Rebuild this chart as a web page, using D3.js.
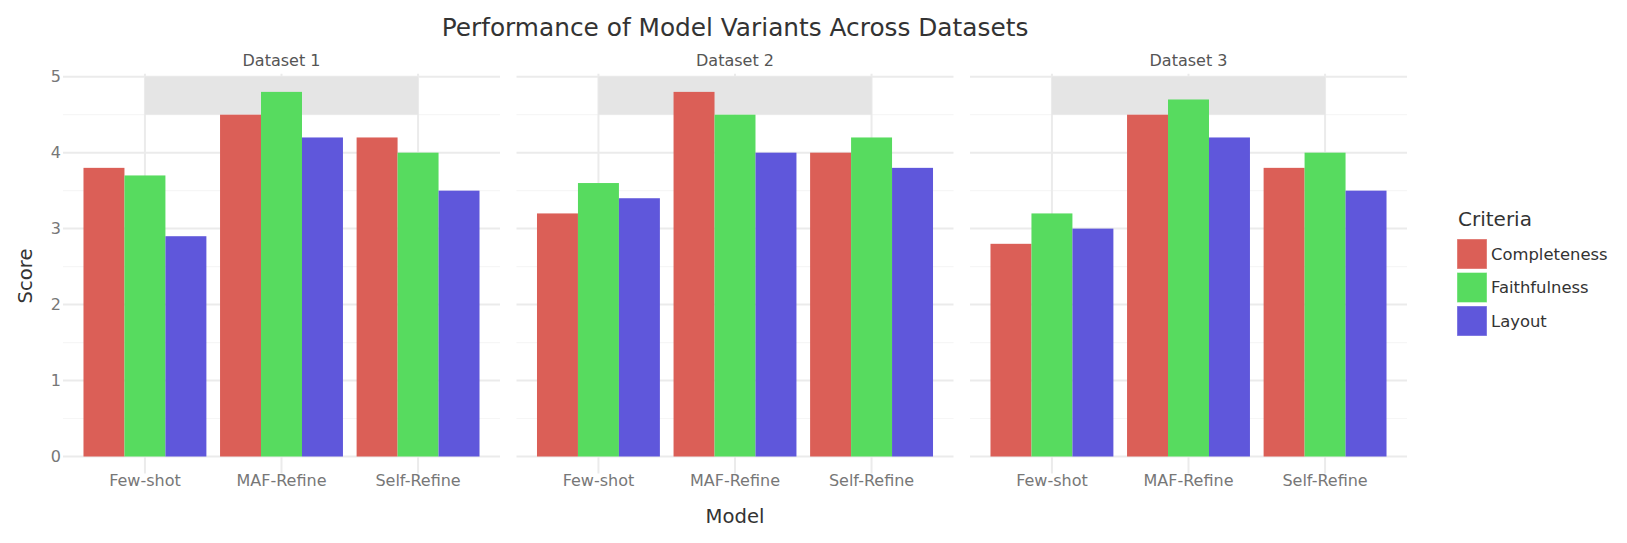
<!DOCTYPE html>
<html>
<head>
<meta charset="utf-8">
<script src="https://cdn.jsdelivr.net/npm/d3@7"></script>
<style>
  body { margin: 0; background: #fff; }
  svg { display: block; font-family: "DejaVu Sans", sans-serif; }
</style>
</head>
<body>
<script>
// data

const datasets = ["Dataset 1", "Dataset 2", "Dataset 3"]
const models = ["Few-shot", "MAF-Refine", "Self-Refine"]
const criteria = ["Completeness", "Faithfulness", "Layout"]

// one value per dataset x model (dataset-major)
const completeness = [3.8, 4.5, 4.2, 3.2, 4.8, 4.0, 2.8, 4.5, 3.8]
const faithfulness = [3.7, 4.8, 4.0, 3.6, 4.5, 4.2, 3.2, 4.7, 4.0]
const layout = [2.9, 4.2, 3.5, 3.4, 4.0, 3.8, 3.0, 4.2, 3.5]

const yTicks = [0, 1, 2, 3, 4, 5]
const yMinor = [0.5, 1.5, 2.5, 3.5, 4.5]
const colors = ["#db5f57", "#57db5f", "#5f57db"]

const series = [completeness, faithfulness, layout]
const rows = []
datasets.forEach((ds, i) => models.forEach((m, j) => criteria.forEach((c, k) => {
  rows.push({ dataset: ds, model: m, criterion: c, value: series[k][i * models.length + j] })
})))

// layout

const W = 1627, H = 543
const plotLeft = 63, plotRight = 1407
const plotTop = 76.7, plotBottom = 456.5

const svg = d3.select("body").append("svg")
  .attr("width", W)
  .attr("height", H)

const panel = d3.scaleBand()
  .domain(datasets)
  .range([plotLeft, plotRight])
  .paddingInner(16.5 / 453.5)

const x = d3.scaleBand()
  .domain(models)
  .range([0, panel.bandwidth()])
  .paddingOuter(0.1)

const xc = d3.scaleBand()
  .domain(criteria)
  .range([-0.45 * x.step(), 0.45 * x.step()])

const y = d3.scaleLinear()
  .domain([0, 5])
  .range([plotBottom, plotTop])

const color = d3.scaleOrdinal().domain(criteria).range(colors)

const gridCol = "#ebebeb"

datasets.forEach(ds => {
  const g = svg.append("g")
    .attr("transform", "translate(" + panel(ds) + ",0)")
  const pw = panel.bandwidth()
  const cx = m => x(m) + x.bandwidth() / 2

  // minor grid
  g.selectAll(".minor").data(yMinor).enter().append("line")
    .attr("x1", 0).attr("x2", pw)
    .attr("y1", d => y(d)).attr("y2", d => y(d))
    .attr("stroke", "#f6f6f6").attr("stroke-width", 1.2)

  // major grid
  g.selectAll(".major").data(yTicks).enter().append("line")
    .attr("x1", 0).attr("x2", pw)
    .attr("y1", d => y(d)).attr("y2", d => y(d))
    .attr("stroke", gridCol).attr("stroke-width", 2)

  // x axis, ticks drawn as grid-coloured lines running down past the baseline
  const xAxis = g.append("g")
    .attr("transform", "translate(0," + y(0) + ")")
    .call(d3.axisBottom(x).tickSize(17).tickPadding(1).tickSizeOuter(0))
  xAxis.select(".domain").remove()
  xAxis.selectAll(".tick line")
    .attr("y1", y(5) - 3 - y(0))
    .attr("stroke", gridCol).attr("stroke-width", 2)
  xAxis.selectAll(".tick text")
    .attr("fill", "#777")
    .style("font-size", "16px")
    .style("font-family", "DejaVu Sans")

  // grey band at the top of the panel
  g.append("rect")
    .attr("x", cx(models[0]))
    .attr("width", cx(models[models.length - 1]) - cx(models[0]))
    .attr("y", y(5))
    .attr("height", y(4.5) - y(5))
    .attr("fill", "#e5e5e5")

  // bars
  g.selectAll(".bar")
    .data(rows.filter(r => r.dataset === ds))
  .enter().append("rect")
    .attr("class", "bar")
    .attr("x", d => cx(d.model) + xc(d.criterion))
    .attr("width", xc.bandwidth())
    .attr("y", d => y(d.value))
    .attr("height", d => y(0) - y(d.value))
    .attr("fill", d => color(d.criterion))

  // strip label
  g.append("text")
    .attr("x", pw / 2)
    .attr("y", 66)
    .attr("text-anchor", "middle")
    .attr("fill", "#555")
    .style("font-size", "16px")
    .text(ds)
})

// y axis
const yAxis = svg.append("g")
  .attr("transform", "translate(" + plotLeft + ",0)")
  .call(d3.axisLeft(y).tickValues(yTicks).tickSize(0).tickPadding(2).tickFormat(d3.format("d")))
yAxis.select(".domain").remove()
yAxis.selectAll(".tick text")
  .attr("fill", "#777")
  .style("font-size", "16px")
  .style("font-family", "DejaVu Sans")

// titles
svg.append("text")
  .attr("x", (plotLeft + plotRight) / 2)
  .attr("y", 36)
  .attr("text-anchor", "middle")
  .attr("fill", "#333")
  .style("font-size", "24.8px")
  .text("Performance of Model Variants Across Datasets")

svg.append("text")
  .attr("x", (plotLeft + plotRight) / 2)
  .attr("y", 522.5)
  .attr("text-anchor", "middle")
  .attr("fill", "#333")
  .style("font-size", "19.6px")
  .text("Model")

svg.append("text")
  .attr("transform", "translate(32,276) rotate(-90)")
  .attr("text-anchor", "middle")
  .attr("fill", "#333")
  .style("font-size", "19.6px")
  .text("Score")

// legend
const legend = svg.append("g").attr("transform", "translate(1457,0)")
legend.append("text")
  .attr("x", 1)
  .attr("y", 226)
  .attr("fill", "#333")
  .style("font-size", "20px")
  .text("Criteria")

const item = legend.selectAll(".item")
  .data(criteria)
.enter().append("g")
  .attr("transform", (d, i) => "translate(0," + (239 + i * 33.5) + ")")
item.append("rect")
  .attr("width", 30)
  .attr("height", 30)
  .attr("fill", d => color(d))
  .attr("stroke", "#fff")
  .attr("stroke-opacity", 0.4)
item.append("text")
  .attr("x", 34)
  .attr("y", 15)
  .attr("dy", "0.36em")
  .attr("fill", "#333")
  .style("font-size", "16.4px")
  .text(d => d)
</script>
</body>
</html>
